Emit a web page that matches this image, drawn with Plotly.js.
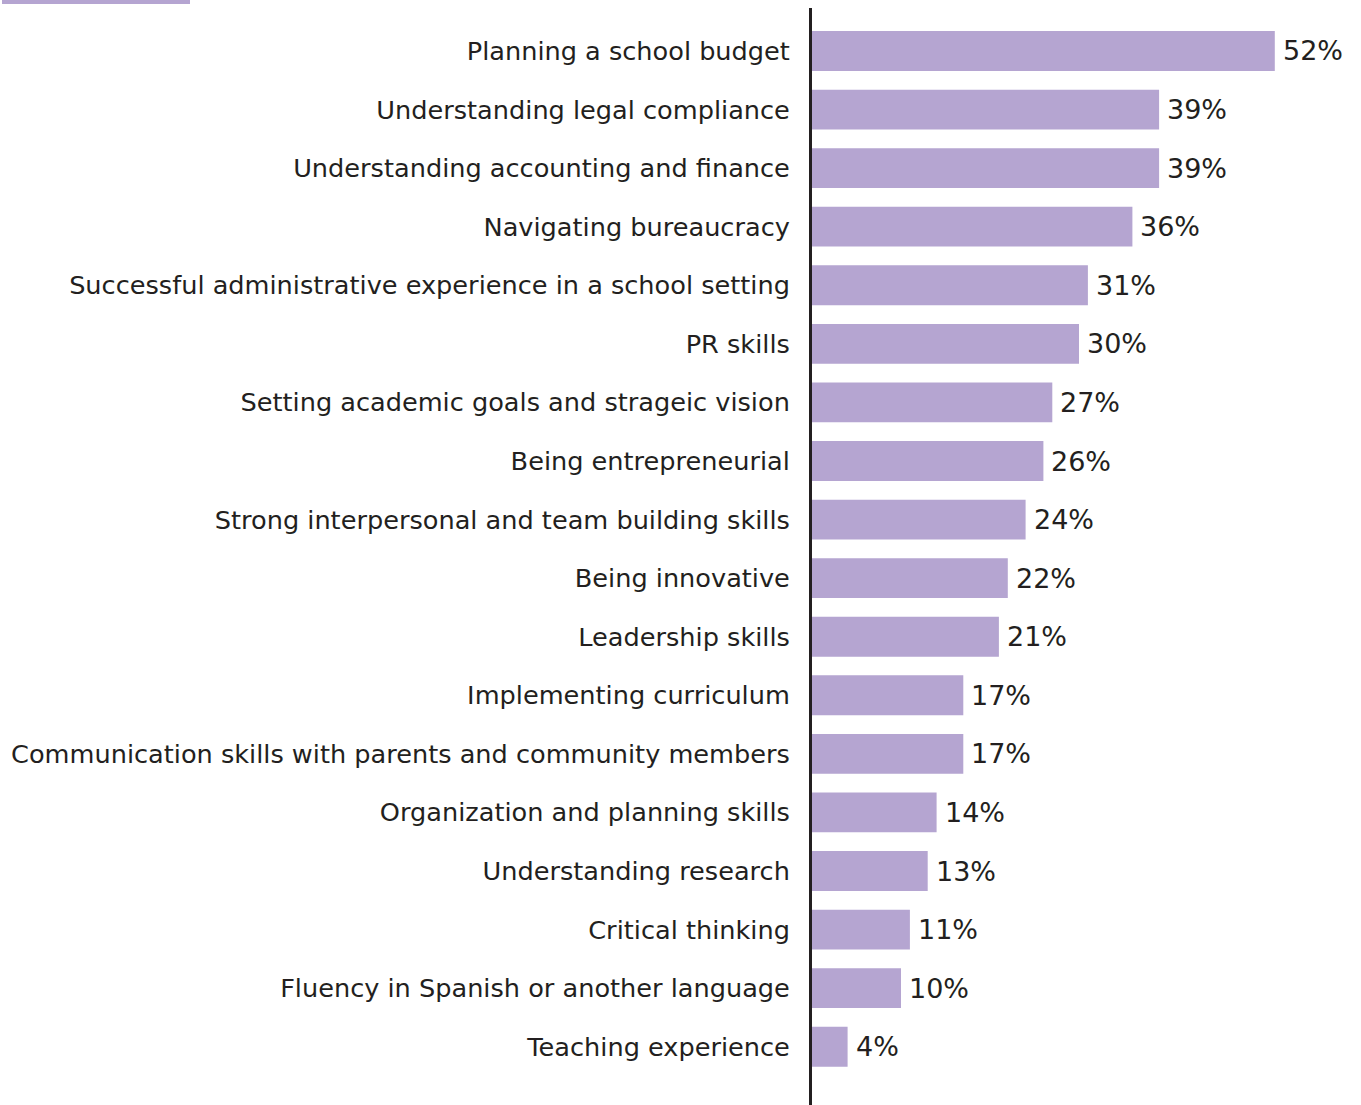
<!DOCTYPE html>
<html><head><meta charset="utf-8">
<script src="https://cdn.plot.ly/plotly-3.0.1.min.js"></script>
<style>html,body{margin:0;padding:0;background:#fff}#chart{width:1361px;height:1105px}</style>
</head><body><div id="chart"></div>
<script>
const categories = [
  "Planning a school budget",
  "Understanding legal compliance",
  "Understanding accounting and finance",
  "Navigating bureaucracy",
  "Successful administrative experience in a school setting",
  "PR skills",
  "Setting academic goals and strageic vision",
  "Being entrepreneurial",
  "Strong interpersonal and team building skills",
  "Being innovative",
  "Leadership skills",
  "Implementing curriculum",
  "Communication skills with parents and community members",
  "Organization and planning skills",
  "Understanding research",
  "Critical thinking",
  "Fluency in Spanish or another language",
  "Teaching experience"
];
const values = [52, 39, 39, 36, 31, 30, 27, 26, 24, 22, 21, 17, 17, 14, 13, 11, 10, 4];
const valueLabels = values.map(v => v + "%");

const FONT = "DejaVu Sans, Liberation Sans, sans-serif";
const TXT = "#231f20";
const trace = {
  type: "bar",
  orientation: "h",
  y: categories,
  x: values,
  marker: {color: "#b5a5d1"},
  hoverinfo: "skip"
};
const annotations = values.map((v, i) => ({
  x: v, y: categories[i], xref: "x", yref: "y",
  text: valueLabels[i], showarrow: false,
  xanchor: "left", yanchor: "middle", xshift: 6,
  font: {family: FONT, size: 27, color: TXT}
}));
const layout = {
  width: 1361, height: 1105,
  margin: {l: 812, r: 15, t: 8, b: 0, pad: 0},
  paper_bgcolor: "#fff", plot_bgcolor: "#fff",
  showlegend: false,
  bargap: 0.32,
  font: {family: FONT, size: 25.6, color: TXT},
  xaxis: {range: [0, 60], visible: false, fixedrange: true},
  yaxis: {
    type: "category",
    range: [17.995, -0.734],
    showline: true, linecolor: TXT, linewidth: 3,
    showgrid: false, zeroline: false,
    ticks: "outside", ticklen: 14, tickcolor: "rgba(0,0,0,0)",
    tickfont: {family: FONT, size: 25.6, color: TXT}
  },
  annotations: annotations,
  shapes: [{
    type: "rect", xref: "paper", yref: "paper",
    x0: (2 - 812) / 534, x1: (190 - 812) / 534,
    y0: 1 + 4 / 1097, y1: 1 + 8 / 1097,
    fillcolor: "#b5a5d1", line: {width: 0}, layer: "above"
  }]
};
Plotly.newPlot("chart", [trace], layout, {displayModeBar: false, staticPlot: true});
</script></body></html>
